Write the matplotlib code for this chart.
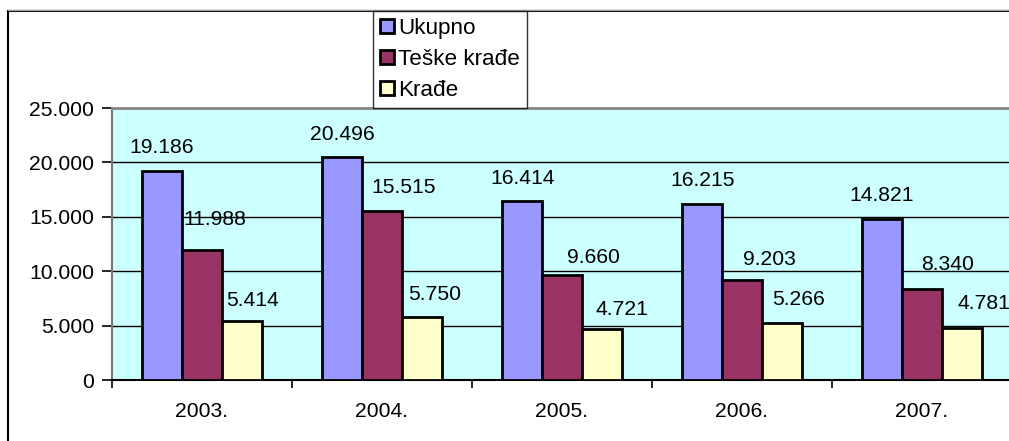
import matplotlib
matplotlib.use("Agg")
import matplotlib.pyplot as plt
import numpy as np
from matplotlib.patches import Rectangle
from matplotlib.lines import Line2D

years = ["2003.", "2004.", "2005.", "2006.", "2007."]
series_names = ["Ukupno", "Teške krađe", "Krađe"]
ukupno = [19186, 20496, 16414, 16215, 14821]
teske_krade = [11988, 15515, 9660, 9203, 8340]
krade = [5414, 5750, 4721, 5266, 4781]
yticks = [0, 5000, 10000, 15000, 20000, 25000]
ytick_labels = ["0", "5.000", "10.000", "15.000", "20.000", "25.000"]

# data-label placement offsets in pixels (labels were moved by hand in the original)
label_dx = [[0, 0, 1, 1, 0], [13, 22, 31, 27, 26], [11, 13, 20, 17, 22]]
label_dy = [[18, 17, 17, 18, 18], [25, 18, 12, 15, 19], [15, 17, 14, 18, 19]]

colors = ["#9999FF", "#993366", "#FFFFCC"]

plt.rcParams['font.family'] = ['Liberation Sans', 'DejaVu Sans']
FS = 15.2
LFS = 16.2

W, H = 1009, 441
fig = plt.figure(figsize=(W / 100, H / 100), dpi=100)

# outer chart frame
fig.add_artist(Line2D([8 / W, 8 / W], [0, 1 - 11 / H], color='black', lw=1.5, transform=fig.transFigure))
fig.add_artist(Line2D([8 / W, 1], [1 - 11 / H, 1 - 11 / H], color='black', lw=1.5, transform=fig.transFigure))
fig.add_artist(Line2D([8 / W, 1], [1 - 9.5 / H, 1 - 9.5 / H], color='#999999', lw=1, transform=fig.transFigure))

left, right, top, bottom = 112, 1012, 108, 380
ax = fig.add_axes([left / W, 1 - bottom / H, (right - left) / W, (bottom - top) / H])
ax.set_facecolor("#CCFFFF")

n = len(years)
x = np.arange(n)
bw = 40 / 180
data = [ukupno, teske_krade, krade]
for i, (vals, c, name) in enumerate(zip(data, colors, series_names)):
    pos = x + (i - 1) * bw
    ax.bar(pos, vals, width=bw, color=c, edgecolor='black', linewidth=2, label=name, zorder=3)
    for j, (px, v) in enumerate(zip(pos, vals)):
        s = f"{v:,}".replace(",", ".")
        ax.annotate(s, (px, v), xytext=(label_dx[i][j], label_dy[i][j]),
                    textcoords='offset pixels', ha='center', va='baseline',
                    fontsize=FS, zorder=5, annotation_clip=False)

ax.set_xlim(-0.5, n - 0.5)
ax.set_ylim(0, 25000)
ax.set_yticks(yticks)
ax.set_yticklabels(ytick_labels, fontsize=FS)
ax.yaxis.grid(True, color='black', lw=1, zorder=0)
ax.set_axisbelow(True)

ax.set_xticks(x)
ax.set_xticklabels(years, fontsize=FS)
ax.tick_params(axis='x', length=0, pad=16)
ax.set_xticks(np.arange(n + 1) - 0.5, minor=True)
ax.tick_params(axis='x', which='minor', length=6, width=1.2, color='black')
ax.tick_params(axis='y', length=7, width=1.2, color='black', pad=6)

ax.spines['top'].set_color('#888888')
ax.spines['top'].set_linewidth(2)
ax.spines['right'].set_visible(False)
ax.spines['left'].set_color('#777777')
ax.spines['left'].set_linewidth(1.5)
ax.spines['bottom'].set_color('black')
ax.spines['bottom'].set_linewidth(1.5)

# legend
handles = [Rectangle((0, 0), 1, 1, facecolor=c, edgecolor='black', linewidth=2) for c in colors]
lg = fig.legend(handles, series_names, loc='upper left',
                bbox_to_anchor=(373 / W, 1 - 11 / H), bbox_transform=fig.transFigure,
                fontsize=LFS, frameon=True, fancybox=False, edgecolor='black',
                handlelength=0.62, handleheight=0.62, handletextpad=0.2,
                labelspacing=0.45, borderpad=0.3, borderaxespad=0)
lg.get_frame().set_linewidth(1)

fig.savefig("out.png", dpi=100)
